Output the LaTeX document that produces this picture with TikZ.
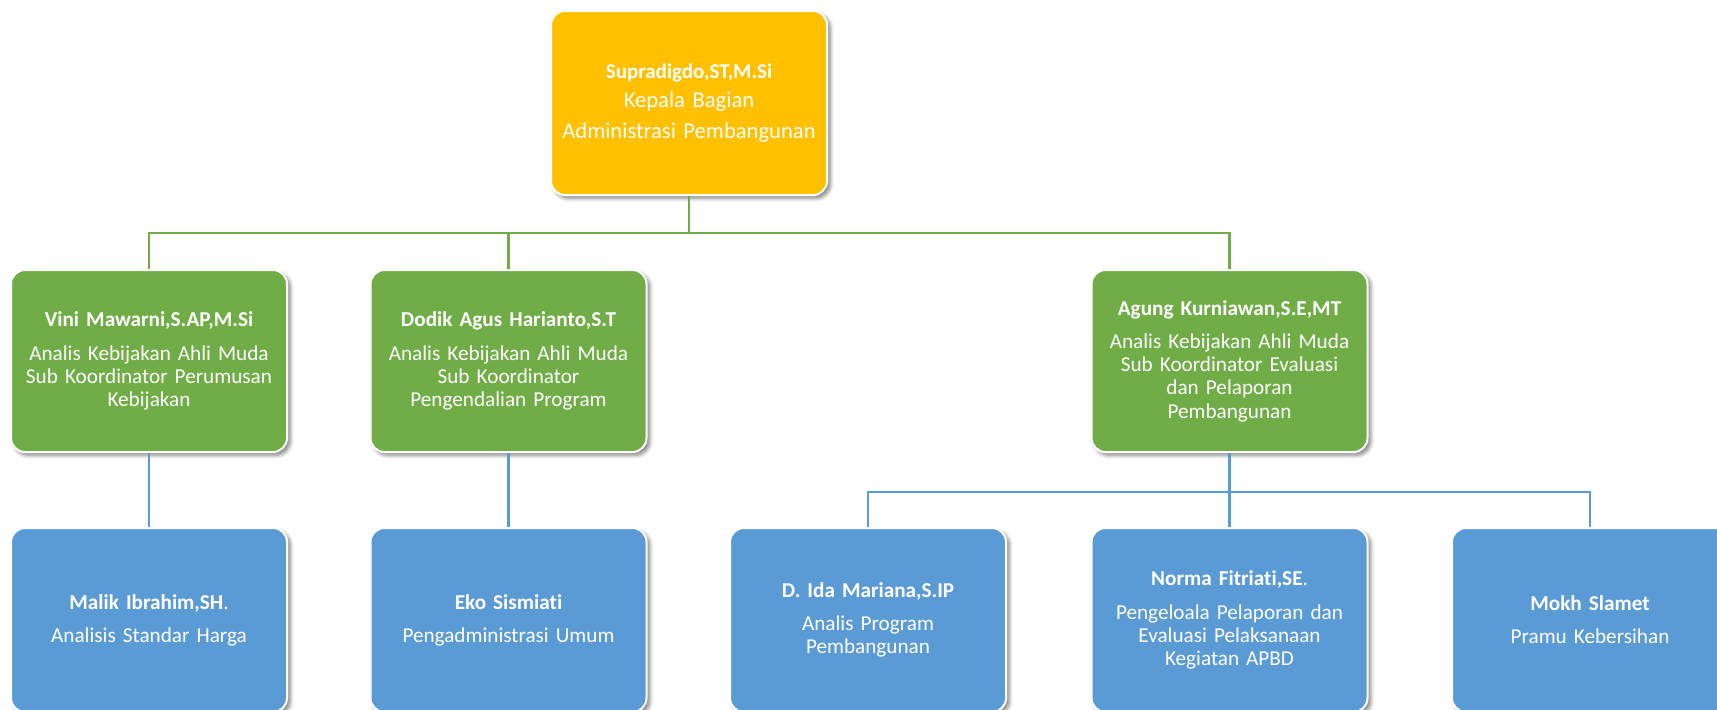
\documentclass[tikz,border=0pt]{standalone}
\usepackage{fontspec}
\setmainfont{Carlito}[Ligatures=NoCommon, WordSpace=0.8]
\usetikzlibrary{shadows.blur}

\definecolor{kuning}{HTML}{FFC000}
\definecolor{hijau}{HTML}{70AD47}
\definecolor{biru}{HTML}{5B9BD5}

\tikzset{
  kotak/.style={rectangle, rounded corners=7pt, draw=white, line width=1pt,
    text=white, align=center, inner sep=2pt,
    minimum width=138pt, minimum height=91pt, text width=134pt,
    font=\fontsize{10.6}{11.6}\selectfont,
    blur shadow={shadow xshift=1.6pt, shadow yshift=-1.6pt,
      shadow blur steps=6, shadow opacity=50}},
  kotakkabag/.style={kotak, fill=kuning, minimum height=92pt,
    font=\fontsize{11.3}{13}\selectfont},
  kotaksub/.style={kotak, fill=hijau},
  kotakstaf/.style={kotak, fill=biru, minimum height=92pt},
  garishijau/.style={draw=hijau, line width=1.3pt},
  garisbiru/.style={draw=biru, line width=1.3pt}
}

\begin{document}
\begin{tikzpicture}[x=0.5pt,y=-0.5pt]
\useasboundingbox (0,0) rectangle (1717,709);
\clip (0,0) rectangle (1717,709);
% kepala bagian
\node[kotakkabag] (kabag) at (689,103)
  {{\fontsize{10.5}{13}\selectfont\textbf{Supradigdo,ST,M.Si}}\\[1.5pt]Kepala Bagian\\[2.5pt]Administrasi Pembangunan};
% sub koordinator
\node[kotaksub] (sub1) at (149,361)
  {\textbf{Vini Mawarni,S.AP,M.Si}\\[5pt]Analis Kebijakan Ahli Muda\\Sub Koordinator Perumusan\\Kebijakan};
\node[kotaksub] (sub2) at (508.5,361)
  {\textbf{Dodik Agus Harianto,S.T}\\[5pt]Analis Kebijakan Ahli Muda\\Sub Koordinator\\Pengendalian Program};
\node[kotaksub] (sub3) at (1229.5,361)
  {\textbf{Agung Kurniawan,S.E,MT}\\[5pt]Analis Kebijakan Ahli Muda\\Sub Koordinator Evaluasi\\dan Pelaporan\\Pembangunan};
% staf
\node[kotakstaf] (staf1) at (149,620)
  {\textbf{Malik Ibrahim,SH}.\\[5pt]Analisis Standar Harga};
\node[kotakstaf] (staf2) at (508.5,620)
  {\textbf{Eko Sismiati}\\[5pt]Pengadministrasi Umum};
\node[kotakstaf] (staf3) at (868,620)
  {\textbf{D. Ida Mariana,S.IP}\\[5pt]Analis Program\\Pembangunan};
\node[kotakstaf] (staf4) at (1229.5,620)
  {\textbf{Norma Fitriati,SE}.\\[5pt]Pengeloala Pelaporan dan\\Evaluasi Pelaksanaan\\Kegiatan APBD};
\node[kotakstaf] (staf5) at (1590,620)
  {\textbf{Mokh Slamet}\\[5pt]Pramu Kebersihan};
% garis
\draw[garishijau] (kabag.south) -- ++(0,37) -| (sub1.north);
\draw[garishijau] (kabag.south) -- ++(0,37) -| (sub2.north);
\draw[garishijau] (kabag.south) -- ++(0,37) -| (sub3.north);
\draw[garisbiru] (sub1.south) -- (staf1.north);
\draw[garisbiru] (sub2.south) -- (staf2.north);
\draw[garisbiru] (sub3.south) -- ++(0,39) -| (staf3.north);
\draw[garisbiru] (sub3.south) -- ++(0,39) -| (staf4.north);
\draw[garisbiru] (sub3.south) -- ++(0,39) -| (staf5.north);
\end{tikzpicture}
\end{document}
